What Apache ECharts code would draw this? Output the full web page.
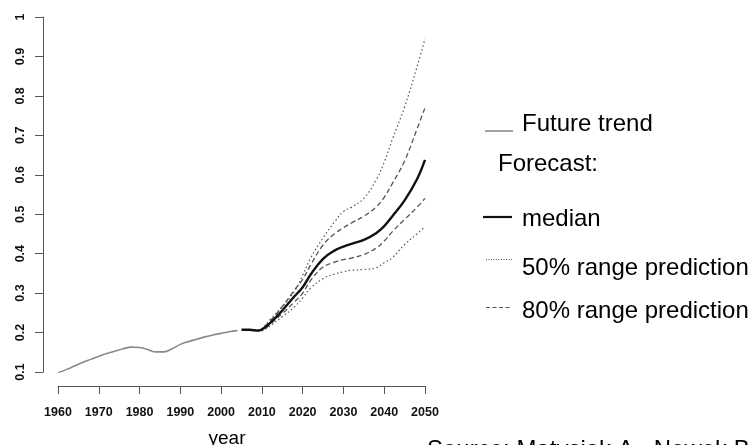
<!DOCTYPE html>
<html>
<head>
<meta charset="utf-8">
<script src="https://cdn.jsdelivr.net/npm/echarts@6/dist/echarts.min.js"></script>
<style>
html,body{margin:0;padding:0;background:#fff;}
#chart{width:750px;height:445px;}
</style>
</head>
<body>
<div id="chart"></div>
<script>
// ---- data ----
const histYears  = [1960,1962,1964,1966,1968,1970,1972,1974,1976,1978,1980,1982,1984,1986,1988,1990,1992,1994,1996,1998,2000,2002,2004];
const histValues = [0.098,0.106,0.115,0.124,0.132,0.140,0.147,0.153,0.159,0.163,0.162,0.157,0.151,0.151,0.159,0.170,0.177,0.183,0.189,0.194,0.198,0.202,0.205];

const fcYears     = [2005,2007,2009,2010,2012,2015,2018,2020,2022,2025,2028,2030,2032,2035,2038,2040,2042,2045,2048,2050];
const medianValues= [0.207,0.207,0.205,0.208,0.224,0.256,0.292,0.315,0.348,0.387,0.409,0.418,0.425,0.435,0.452,0.470,0.495,0.535,0.588,0.638];

const bandYears   = [2009,2010,2012,2015,2018,2020,2022,2025,2028,2030,2032,2035,2038,2040,2042,2045,2048,2050];
const upperDotted = [0.206,0.210,0.233,0.265,0.305,0.345,0.390,0.440,0.483,0.507,0.518,0.540,0.587,0.632,0.690,0.772,0.872,0.945];
const upperDashed = [0.206,0.209,0.229,0.266,0.308,0.335,0.372,0.422,0.452,0.466,0.478,0.495,0.518,0.543,0.578,0.635,0.715,0.770];
const lowerDashed = [0.205,0.206,0.221,0.248,0.278,0.300,0.333,0.366,0.379,0.385,0.389,0.398,0.414,0.432,0.456,0.487,0.517,0.540];
const lowerDotted = [0.205,0.205,0.217,0.240,0.265,0.288,0.313,0.337,0.349,0.354,0.358,0.360,0.364,0.377,0.390,0.423,0.450,0.468];

const xTicks = [1960,1970,1980,1990,2000,2010,2020,2030,2040,2050];

const legendItems = ['Future trend','Forecast:','median','50% range prediction','80% range prediction'];
const xTitle = 'year';
const sourceText = 'Source: Matysiak A., Nowok B.';

function pairs(xs, ys){ return xs.map((x,i)=>[x, ys[i]]); }

const FONT = '"Liberation Sans", Arial, Helvetica, sans-serif';
const chart = echarts.init(document.getElementById('chart'), null, {renderer:'canvas'});

const axisCol = '#555';

const option = {
  backgroundColor: '#fff',
  animation: false,
  grid: {left: 58, right: 325, top: 17, bottom: 73, containLabel: false, outerBoundsMode: 'none'},
  xAxis: {
    type: 'value', min: 1960, max: 2050, interval: 10,
    offset: 14,
    axisLine: {show: true, lineStyle: {color: axisCol, width: 1}},
    axisTick: {show: true, length: 8, lineStyle: {color: axisCol, width: 1}},
    axisLabel: {show: true, margin: 20, color: '#111', fontFamily: FONT, fontWeight: 'bold', fontSize: 12.5,
      formatter: v => String(v)},
    splitLine: {show: false}
  },
  yAxis: {
    type: 'value', min: 0.1, max: 1, interval: 0.1,
    offset: 15,
    axisLine: {show: true, lineStyle: {color: axisCol, width: 1}},
    axisTick: {show: true, length: 8, lineStyle: {color: axisCol, width: 1}},
    axisLabel: {show: true, rotate: 90, margin: 16, color: '#111', fontFamily: FONT, fontWeight: 'bold', fontSize: 12.5,
      formatter: v => String(Math.round(v*10)/10)},
    splitLine: {show: false}
  },
  series: [
    {type:'line', name:'hist', data: pairs(histYears, histValues), showSymbol:false, smooth:0.4,
      lineStyle:{color:'#8a8a8a', width:1.6}},
    {type:'line', name:'upperDotted', data: pairs(bandYears, upperDotted), showSymbol:false, smooth:0.4,
      lineStyle:{color:'#555', width:1.2, type:[1.5,2.5]}},
    {type:'line', name:'lowerDotted', data: pairs(bandYears, lowerDotted), showSymbol:false, smooth:0.4,
      lineStyle:{color:'#555', width:1.2, type:[1.5,2.5]}},
    {type:'line', name:'upperDashed', data: pairs(bandYears, upperDashed), showSymbol:false, smooth:0.4,
      lineStyle:{color:'#555', width:1.3, type:[5,3]}},
    {type:'line', name:'lowerDashed', data: pairs(bandYears, lowerDashed), showSymbol:false, smooth:0.4,
      lineStyle:{color:'#555', width:1.3, type:[5,3]}},
    {type:'line', name:'median', data: pairs(fcYears, medianValues), showSymbol:false, smooth:0.4,
      lineStyle:{color:'#111', width:2.4}}
  ],
  graphic: [
    // legend samples
    {type:'line', shape:{x1:485,y1:131,x2:513,y2:131}, style:{stroke:'#8a8a8a', lineWidth:1.6}},
    {type:'line', shape:{x1:483,y1:217,x2:512,y2:217}, style:{stroke:'#111', lineWidth:2.2}},
    {type:'line', shape:{x1:486,y1:259.5,x2:512,y2:259.5}, style:{stroke:'#555', lineWidth:1, lineDash:[1,1.5]}},
    {type:'line', shape:{x1:486,y1:307.5,x2:512,y2:307.5}, style:{stroke:'#555', lineWidth:1, lineDash:[4,2.5]}},
    {type:'text', x:522, y:124.5, style:{text:legendItems[0], font:'24px '+FONT, fill:'#000', textAlign:'left', textVerticalAlign:'middle'}},
    {type:'text', x:498, y:164.5, style:{text:legendItems[1], font:'24px '+FONT, fill:'#000', textAlign:'left', textVerticalAlign:'middle'}},
    {type:'text', x:522, y:219, style:{text:legendItems[2], font:'24px '+FONT, fill:'#000', textAlign:'left', textVerticalAlign:'middle'}},
    {type:'text', x:522, y:268.5, style:{text:legendItems[3], font:'24px '+FONT, fill:'#000', textAlign:'left', textVerticalAlign:'middle'}},
    {type:'text', x:522, y:311.5, style:{text:legendItems[4], font:'24px '+FONT, fill:'#000', textAlign:'left', textVerticalAlign:'middle'}},
    // axis title and source
    {type:'text', x:227, y:439, style:{text:xTitle, font:'19px '+FONT, fill:'#000', textAlign:'center', textVerticalAlign:'middle'}},
    {type:'text', x:427, y:450, style:{text:sourceText, font:'24px '+FONT, fill:'#000', textAlign:'left', textVerticalAlign:'middle'}}
  ]
};
chart.setOption(option);
</script>
</body>
</html>
